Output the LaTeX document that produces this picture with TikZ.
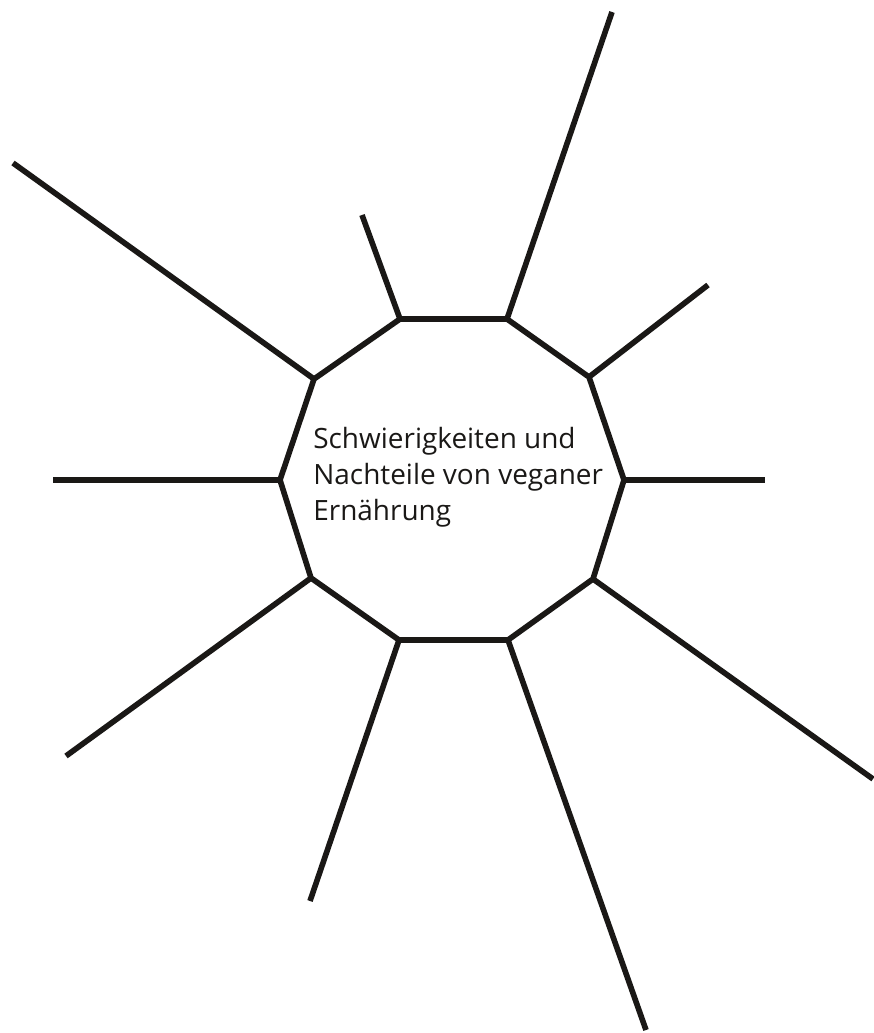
\documentclass[tikz,border=0pt]{standalone}
\usepackage{fontspec}
\setmainfont{Open Sans}
\usetikzlibrary{positioning, calc}
\definecolor{rayBlack}{RGB}{26,24,22}

\begin{document}
\begin{tikzpicture}[x=0.02cm, y=-0.02cm, every node/.style={font=\fontsize{15.9}{20.4}\selectfont}]
	\tikzset{rim/.style={draw=rayBlack, line width=3.2pt}}
	% Frame of the picture
	\useasboundingbox (0,0) rectangle (874,1033);
	% Corners of the ten-sided frame
	\coordinate (vA) at (400,319);
	\coordinate (vB) at (507,319);
	\coordinate (vC) at (589,377);
	\coordinate (vD) at (624,480);
	\coordinate (vE) at (593,579);
	\coordinate (vF) at (508,640);
	\coordinate (vG) at (399,640);
	\coordinate (vH) at (311,578);
	\coordinate (vI) at (280,480);
	\coordinate (vJ) at (314,379);
	% Outer ends of the rays
	\coordinate (eA) at (362,215);
	\coordinate (eB) at (612,12);
	\coordinate (eC) at (708,285);
	\coordinate (eD) at (765,480);
	\coordinate (eE) at (873,779);
	\coordinate (eF) at (646,1030);
	\coordinate (eG) at (310,901);
	\coordinate (eH) at (66,756);
	\coordinate (eI) at (53,480);
	\coordinate (eJ) at (13,163);
	% Decagon
	\draw[rim] (vA) -- (vB) -- (vC) -- (vD) -- (vE) -- (vF) -- (vG) -- (vH) -- (vI) -- (vJ) -- cycle;
	% Rays
	\foreach \k in {A,B,C,D,E,F,G,H,I,J}
		\draw[rim] (v\k) -- (e\k);
	% Title
	\node[anchor=north west, align=left, inner sep=0pt, text=rayBlack] (title) at (313,427)
		{Schwierigkeiten und\\Nachteile von veganer\\Ernährung};
\end{tikzpicture}
\end{document}
